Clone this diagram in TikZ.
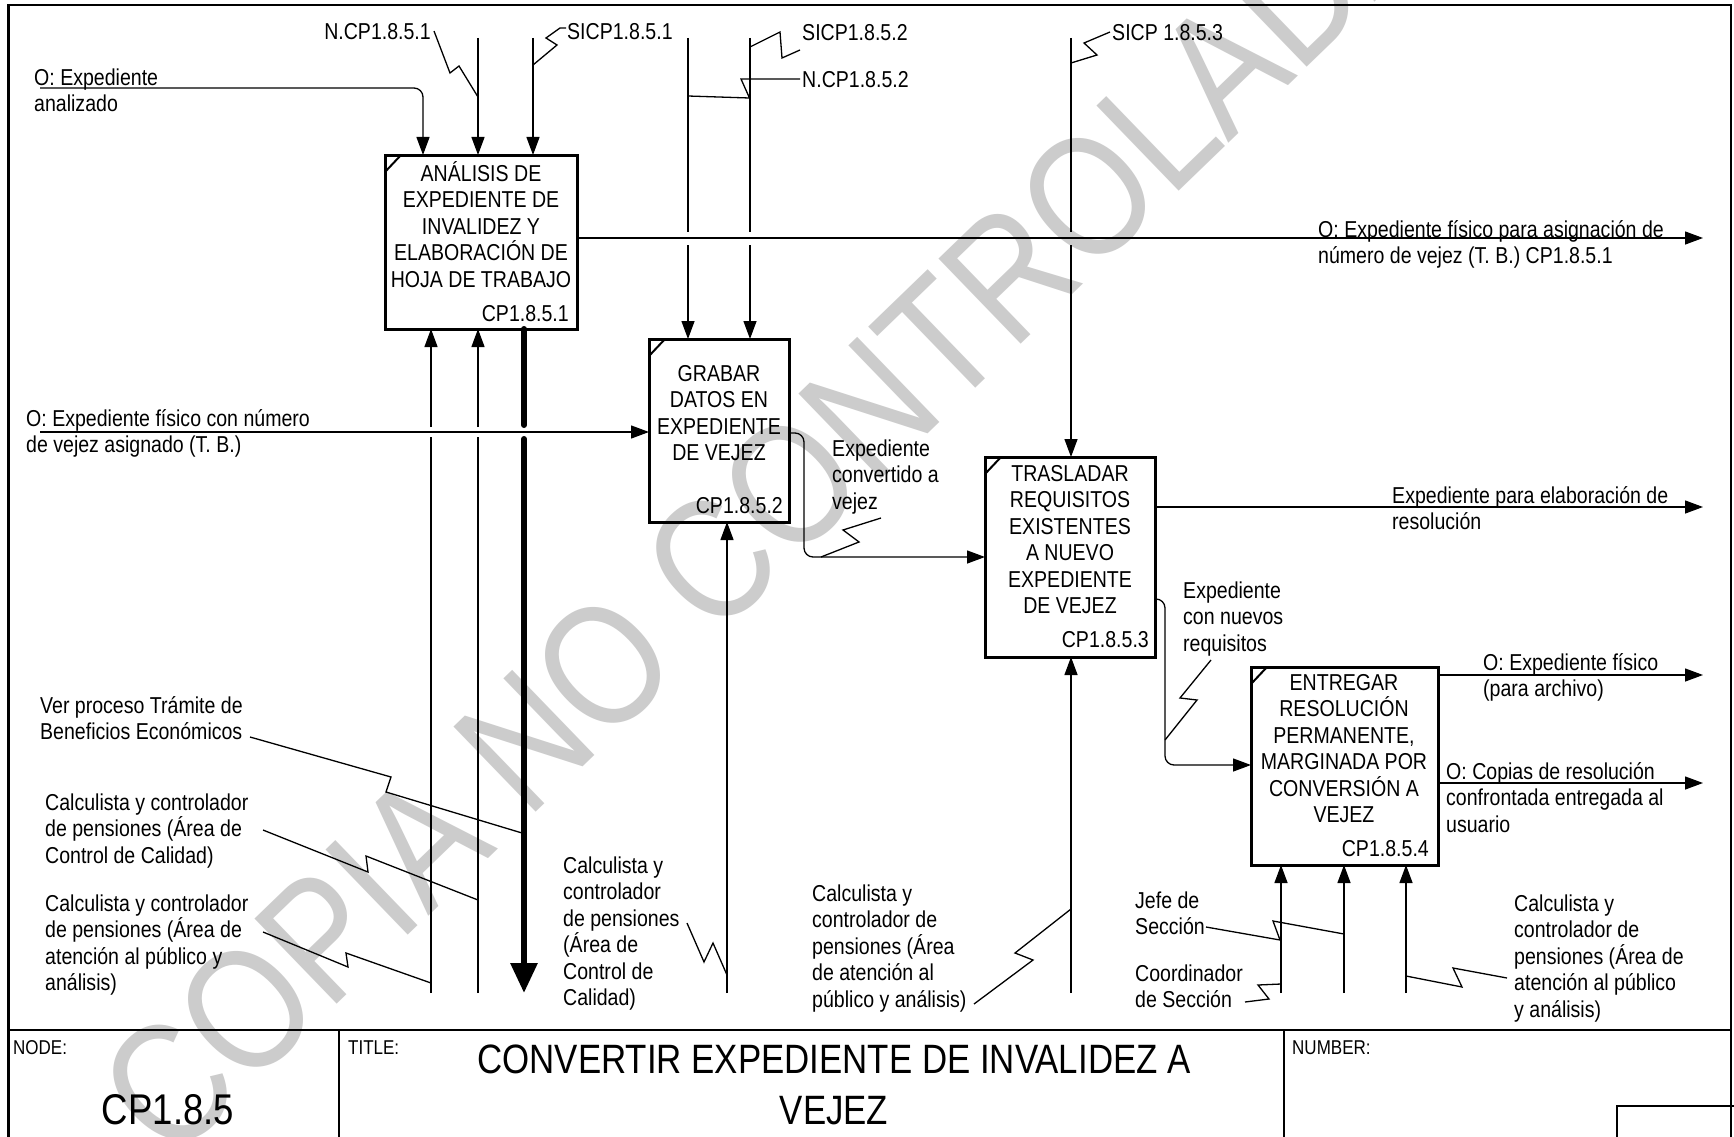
\documentclass[tikz,border=0pt]{standalone}
\usepackage{fontspec}
\setmainfont[FakeStretch=0.85]{Liberation Sans}
\usetikzlibrary{arrows.meta,calc}
\definecolor{wmgray}{gray}{0.8}
\newcommand{\mystrut}{\rule{0pt}{22pt}}
\newcommand{\bigstrut}{\rule{0pt}{40pt}}
\tikzset{
  boxnode/.style={draw, line width=3pt, rectangle, inner sep=0pt, outer sep=0pt, anchor=north west},
  boxtext/.style={font=\fontsize{23}{26.5}\selectfont, align=center, inner sep=0pt, anchor=north},
  numtext/.style={font=\fontsize{23}{26.5}\selectfont, inner sep=0pt, anchor=base east},
  lbltext/.style={font=\fontsize{23}{26.5}\selectfont, align=left, inner sep=0pt, anchor=north west},
  toplbl/.style={font=\fontsize{23}{26.5}\selectfont, inner sep=0pt},
  flowarrow/.style={line width=1.3pt, -{Triangle[length=18pt,width=13pt]}},
  zigline/.style={line width=1.3pt, line join=miter},
  callarrow/.style={line width=6pt, line cap=round, -{Triangle[length=30pt,width=26pt]}},
  cornermark/.style={line width=2pt},
  smalltext/.style={font=\fontsize{20}{24}\selectfont, inner sep=0pt, anchor=base west},
  wmark/.style={font=\fontsize{172}{172}\selectfont, text=wmgray, rotate=44, anchor=base west, inner sep=0pt}
}
\begin{document}
\begin{tikzpicture}[x=1pt,y=-1pt]
\path[use as bounding box, clip] (0,0) rectangle (1734,1137);
\fill[white] (0,0) rectangle (1734,1137);

% watermark
\node[wmark] (wmk) at (170.9,1164.9) {COPIA NO CONTROLADA};

% frame and title block
\draw[line width=2.5pt] (8.5,1145) -- (8.5,5) -- (1731,5) -- (1731,1145);
\draw[line width=2pt] (8.5,1030) -- (1731,1030);
\draw[line width=1.5pt] (339,1030) -- (339,1145);
\draw[line width=1.5pt] (1284,1030) -- (1284,1145);
\draw[line width=1.5pt] (1617,1145) -- (1617,1106) -- (1740,1106);
\node[smalltext] (nodelbl) at (13,1054) {NODE:};
\node[smalltext] (titlelbl) at (348,1054) {TITLE:};
\node[smalltext] (numberlbl) at (1292,1054) {NUMBER:};
\node[font=\fontsize{43}{50}\selectfont, inner sep=0pt, anchor=base] (nodeval) at (168,1124) {CP1.8.5};
\node[font=\fontsize{41}{51}\selectfont, align=center, inner sep=0pt, anchor=north] (titleval) at (834,1033) {\bigstrut CONVERTIR EXPEDIENTE DE INVALIDEZ A\\VEJEZ};

% activity boxes
\node[boxnode, minimum width=192pt, minimum height=174pt] (b1) at (385,155) {};
\node[boxnode, minimum width=140pt, minimum height=183pt] (b2) at (649,339) {};
\node[boxnode, minimum width=170pt, minimum height=200pt] (b3) at (985,457) {};
\node[boxnode, minimum width=187pt, minimum height=198pt] (b4) at (1251,667) {};
\foreach \b in {b1,b2,b3,b4}{
  \draw[cornermark] ($(\b.north west)+(0,17)$) -- ($(\b.north west)+(16,0)$);
}
\node[boxtext] (b1t) at (481,159) {\mystrut ANÁLISIS DE\\EXPEDIENTE DE\\INVALIDEZ Y\\ELABORACIÓN DE\\HOJA DE TRABAJO};
\node[numtext] (b1n) at (569,321) {CP1.8.5.1};
\node[boxtext] (b2t) at (719,359) {\mystrut GRABAR\\DATOS EN\\EXPEDIENTE\\DE VEJEZ};
\node[numtext] (b2n) at (783,513) {CP1.8.5.2};
\node[boxtext] (b3t) at (1070,459) {\mystrut TRASLADAR\\REQUISITOS\\EXISTENTES\\A NUEVO\\EXPEDIENTE\\DE VEJEZ};
\node[numtext] (b3n) at (1149,647) {CP1.8.5.3};
\node[boxtext] (b4t) at (1344,668) {\mystrut ENTREGAR\\RESOLUCIÓN\\PERMANENTE,\\MARGINADA POR\\CONVERSIÓN A\\VEJEZ};
\node[numtext] (b4n) at (1429,856) {CP1.8.5.4};

% labels
\node[lbltext] (l1) at (34,63) {\mystrut O: Expediente\\analizado};
\node[lbltext] (l2) at (26,404) {\mystrut O: Expediente físico con número\\de vejez asignado (T. B.)};
\node[lbltext] (l3) at (1318,215) {\mystrut O: Expediente físico para asignación de\\número de vejez (T. B.) CP1.8.5.1};
\node[lbltext] (l4) at (832,434) {\mystrut Expediente\\convertido a\\vejez};
\node[lbltext] (l5) at (1392,481) {\mystrut Expediente para elaboración de\\resolución};
\node[lbltext] (l6) at (1183,576) {\mystrut Expediente\\con nuevos\\requisitos};
\node[lbltext] (l7) at (1483,648) {\mystrut O: Expediente físico\\(para archivo)};
\node[lbltext] (l8) at (1446,757) {\mystrut O: Copias de resolución\\confrontada entregada al\\usuario};
\node[lbltext] (l9) at (40,691) {\mystrut Ver proceso Trámite de\\Beneficios Económicos};
\node[lbltext] (l10) at (45,788) {\mystrut Calculista y controlador\\de pensiones (Área de\\Control de Calidad)};
\node[lbltext] (l11) at (45,889) {\mystrut Calculista y controlador\\de pensiones (Área de\\atención al público y\\análisis)};
\node[lbltext] (l12) at (563,851) {\mystrut Calculista y\\controlador\\de pensiones\\(Área de\\Control de\\Calidad)};
\node[lbltext] (l13) at (812,879) {\mystrut Calculista y\\controlador de\\pensiones (Área\\de atención al\\público y análisis)};
\node[lbltext] (l14) at (1135,886) {\mystrut Jefe de\\Sección};
\node[lbltext] (l15) at (1135,959) {\mystrut Coordinador\\de Sección};
\node[lbltext] (l16) at (1514,889) {\mystrut Calculista y\\controlador de\\pensiones (Área de\\atención al público\\y análisis)};
\node[toplbl, anchor=base east] (l17) at (431,40) {N.CP1.8.5.1};
\node[toplbl, anchor=base west] (l18) at (567,40) {SICP1.8.5.1};
\node[toplbl, anchor=base west] (l19) at (802,41) {SICP1.8.5.2};
\node[toplbl, anchor=base west] (l20) at (802,88) {N.CP1.8.5.2};
\node[toplbl, anchor=base west] (l21) at (1112,41) {SICP 1.8.5.3};

% free ends
\coordinate (in1) at (40,88);
\coordinate (in2) at (40,432);
\coordinate (t1) at (478,38);
\coordinate (t2) at (533,38);
\coordinate (t3) at (688,38);
\coordinate (t4) at (750,38);
\coordinate (t5) at (1071,38);
\coordinate (o1) at (1703,238);
\coordinate (o3) at (1703,507);
\coordinate (o4a) at (1703,675);
\coordinate (o4b) at (1703,783);
\coordinate (m1) at (431,993);
\coordinate (m2) at (478,993);
\coordinate (cl) at (524,993);
\coordinate (m3) at (727,993);
\coordinate (m4) at (1071,993);
\coordinate (m5) at (1281,993);
\coordinate (m6) at (1344,993);
\coordinate (m7) at (1406,993);

% inputs / controls of b1
\draw[flowarrow, rounded corners=9pt] (in1) -| ($(b1.north west)+(38,0)$);
\draw[flowarrow] (t1) -- (t1 |- b1.north);
\draw[flowarrow] (t2) -- (t2 |- b1.north);
% output b1
\draw[flowarrow] (b1.east |- o1) -- (o1);
% controls b2, b3 (gap at crossing)
\draw[flowarrow] (t3) -- ++(0,194) ++(0,13) -- (t3 |- b2.north);
\draw[flowarrow] (t4) -- ++(0,194) ++(0,13) -- (t4 |- b2.north);
\draw[flowarrow] (t5) -- ++(0,194) ++(0,13) -- (t5 |- b3.north);
% mechanisms b1
\draw[flowarrow] (m1) -- ++(0,-556) ++(0,-10) -- (m1 |- b1.south);
\draw[flowarrow] (m2) -- ++(0,-556) ++(0,-10) -- (m2 |- b1.south);
\draw[callarrow] (b1.south -| cl) -- ++(0,96) ++(0,14) -- (cl);
% input b2
\draw[flowarrow] (in2) -- (in2 -| b2.west);
% b2 -> b3
\draw[flowarrow, rounded corners=9pt] ($(b2.north east)+(0,94)$) -- ++(15,0) |- ($(b3.north west)+(0,100)$);
% b3 outputs
\draw[flowarrow] (b3.east |- o3) -- (o3);
\draw[flowarrow, rounded corners=9pt] ($(b3.north east)+(0,142)$) -- ++(10,0) |- ($(b4.north west)+(0,98)$);
% b4 outputs
\draw[flowarrow] (b4.east |- o4a) -- (o4a);
\draw[flowarrow] (b4.east |- o4b) -- (o4b);
% mechanisms
\draw[flowarrow] (m3) -- (m3 |- b2.south);
\draw[flowarrow] (m4) -- (m4 |- b3.south);
\draw[flowarrow] (m5) -- (m5 |- b4.south);
\draw[flowarrow] (m6) -- (m6 |- b4.south);
\draw[flowarrow] (m7) -- (m7 |- b4.south);

% squiggles
\coordinate (q1s) at (434,31);   \coordinate (q1e) at (478,97);
\draw[zigline] (q1s) -- (450,73) -- (459,66) -- (q1e);
\coordinate (q2s) at (566,28);   \coordinate (q2e) at (533,65);
\draw[zigline] (q2s) -- (560,28) -- (546,38) -- (557,45) -- (q2e);
\coordinate (q3s) at (800,50);   \coordinate (q3e) at (750,47);
\draw[zigline] (q3s) -- (782,58) -- (780,32) -- (q3e);
\coordinate (q4s) at (800,79);   \coordinate (q4e) at (688,96);
\draw[zigline] (q4s) -- (741,79) -- (749.5,98) -- (q4e);
\coordinate (q5s) at (1110,32);  \coordinate (q5e) at (1071,63);
\draw[zigline] (q5s) -- (1084,43) -- (1097,55) -- (q5e);
\coordinate (q6s) at (881,518);  \coordinate (q6e) at (821,557);
\draw[zigline] (q6s) -- (843,530) -- (859,542) -- (q6e);
\coordinate (q7s) at (1211,660); \coordinate (q7e) at (1165,740);
\draw[zigline] (q7s) -- (1180,698) -- (1197,700) -- (q7e);
\coordinate (q8s) at (250,737);  \coordinate (q8e) at (522,833);
\draw[zigline] (q8s) -- (391,777) -- (386,792) -- (q8e);
\coordinate (q9s) at (263,830);  \coordinate (q9e) at (478,900);
\draw[zigline] (q9s) -- (368,872) -- (366,856) -- (q9e);
\coordinate (q10s) at (263,932); \coordinate (q10e) at (431,983);
\draw[zigline] (q10s) -- (348,967) -- (346,953) -- (q10e);
\coordinate (q11s) at (687,923); \coordinate (q11e) at (727,975);
\draw[zigline] (q11s) -- (704,962) -- (713,943) -- (q11e);
\coordinate (q12s) at (974,1004); \coordinate (q12e) at (1071,909);
\draw[zigline] (q12s) -- (1033,960) -- (1015,953) -- (q12e);
\coordinate (q13s) at (1206,927); \coordinate (q13e) at (1344,934);
\draw[zigline] (q13s) -- (1280,940) -- (1273,921) -- (q13e);
\coordinate (q14s) at (1245,1002); \coordinate (q14e) at (1281,984);
\draw[zigline] (q14s) -- (1269,999) -- (1258,985) -- (q14e);
\coordinate (q15s) at (1507,978); \coordinate (q15e) at (1406,976);
\draw[zigline] (q15s) -- (1453,968) -- (1462,987) -- (q15e);
\end{tikzpicture}
\end{document}
